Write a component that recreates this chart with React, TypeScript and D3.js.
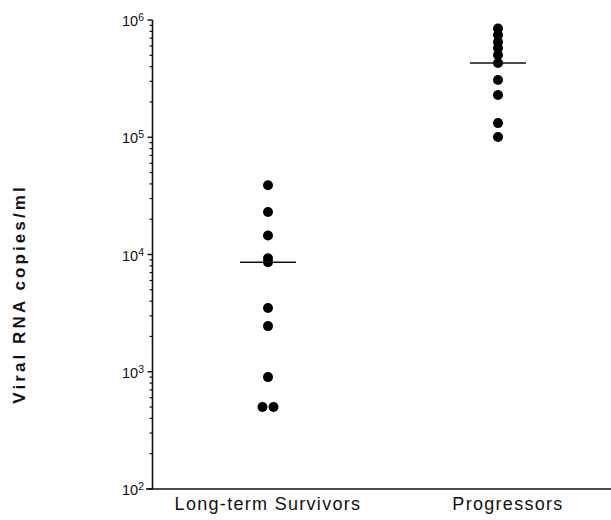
import React from "react";
import * as d3 from "d3";

const categories = ["Long-term Survivors", "Progressors"];
const survivorValues = [39000, 23000, 14500, 9300, 8600, 3500, 2450, 900, 500, 500];
const progressorValues = [845000, 745000, 650000, 577000, 503000, 430000, 308000, 229000, 132000, 100500];
const medianValues = [8600, 430000];
const yTickExponents = [2, 3, 4, 5, 6];
const yTitle = "Viral RNA copies/ml";

const W = 611;
const H = 520;
const FONT = "'Liberation Sans', Arial, Helvetica, sans-serif";

export default function App() {
  const axisX = 152.5;
  const axisY = 489;
  const y = d3.scaleLog().domain([100, 1e6]).range([axisY, 20]);
  const x = d3.scaleBand().domain(categories).range([153, 613]).paddingInner(0).paddingOuter(0);
  const cx = (c: string) => (x(c) as number) + x.bandwidth() / 2;
  const r = 5;

  const series = [survivorValues, progressorValues];

  const minorTicks: number[] = [];
  for (let e = 2; e < 6; e++) {
    for (let k = 2; k <= 9; k++) minorTicks.push(k * Math.pow(10, e));
  }

  const dots: { x: number; y: number }[] = [];
  series.forEach((vals, i) => {
    const groups = d3.group(vals, (v) => v);
    groups.forEach((arr, v) => {
      const n = arr.length;
      arr.forEach((_, j) => {
        const off = (j - (n - 1) / 2) * (r * 2.2);
        dots.push({ x: cx(categories[i]) + off, y: y(v) });
      });
    });
  });

  return (
    <svg width={W} height={H} style={{ position: "absolute", left: 0, top: 0, background: "#fff" }}>
      <line x1={axisX} x2={axisX} y1={y(1e6)} y2={axisY} stroke="#111" strokeWidth={1.6} />
      <line x1={146} x2={W} y1={axisY} y2={axisY} stroke="#111" strokeWidth={1.6} />
      {yTickExponents.map((e) => (
        <g key={e}>
          <line x1={axisX - 5} x2={axisX} y1={y(Math.pow(10, e))} y2={y(Math.pow(10, e))} stroke="#111" strokeWidth={1.4} />
          <text x={144} y={y(Math.pow(10, e)) + 6} textAnchor="end" fontFamily={FONT} fontSize={14.5} fill="#111">
            10
            <tspan dy={-5} fontSize={10.5}>{e}</tspan>
          </text>
        </g>
      ))}
      {minorTicks.map((v) => (
        <line key={v} x1={axisX - 3} x2={axisX} y1={y(v)} y2={y(v)} stroke="#111" strokeWidth={1.2} />
      ))}
      {dots.map((d, i) => (
        <circle key={i} cx={d.x} cy={d.y} r={r} fill="#000" />
      ))}
      {medianValues.map((m, i) => (
        <line key={i} x1={cx(categories[i]) - 28} x2={cx(categories[i]) + 28} y1={y(m)} y2={y(m)} stroke="#111" strokeWidth={1.6} />
      ))}
      {categories.map((c, i) => (
        <text key={c} x={cx(c) + (i === 0 ? 0 : 10)} y={510} textAnchor="middle" fontFamily={FONT} fontSize={18} letterSpacing={1.3} fill="#111">
          {c}
        </text>
      ))}
      <text transform={`translate(25, 294) rotate(-90)`} textAnchor="middle" fontFamily={FONT} fontSize={17} fontWeight="bold" letterSpacing={3.1} fill="#111">
        {yTitle}
      </text>
    </svg>
  );
}
